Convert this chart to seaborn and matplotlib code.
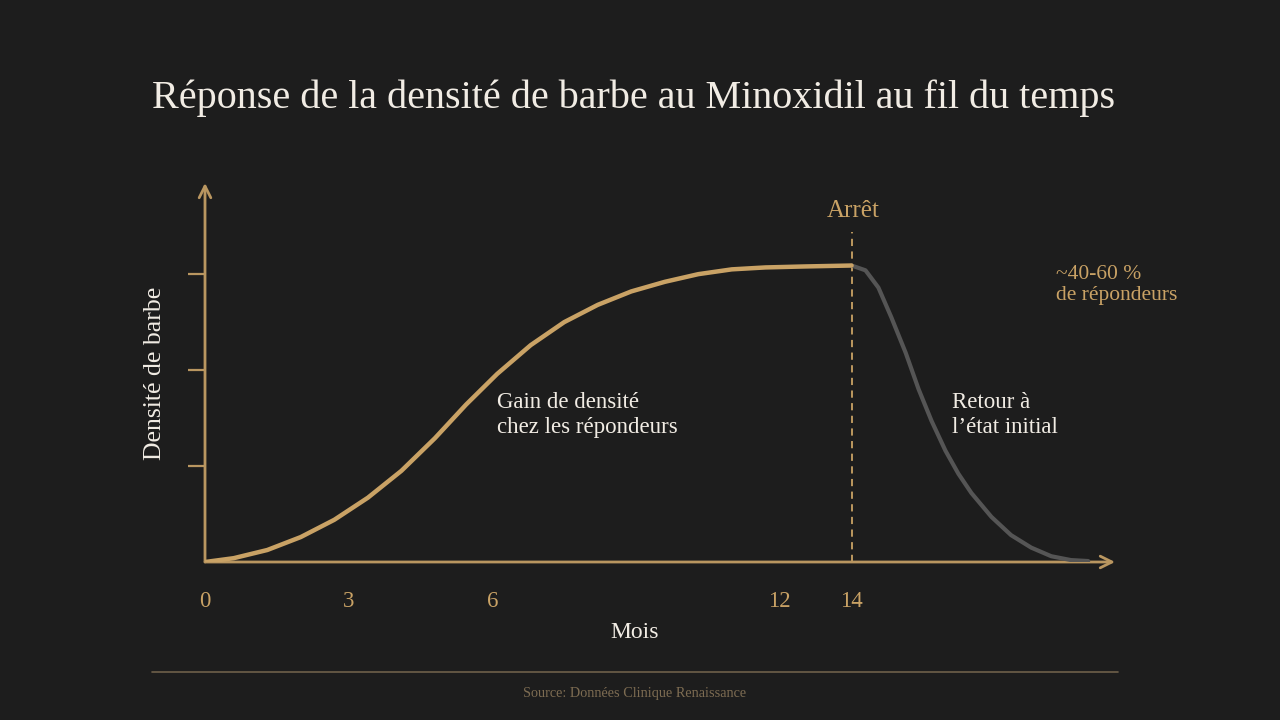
import pandas as pd
import matplotlib.pyplot as plt
import seaborn as sns

# --- data ---
months_on = [0, 0.6, 1.3, 2.0, 2.7, 3.4, 4.1, 4.8, 5.45, 6.1, 6.8, 7.5, 8.2,
             8.9, 9.6, 10.3, 11.0, 11.7, 12.5, 13.5]
density_on = [0, 0.04, 0.125, 0.26, 0.44, 0.67, 0.95, 1.29, 1.64, 1.96, 2.26,
              2.5, 2.68, 2.82, 2.92, 3.0, 3.05, 3.07, 3.08, 3.09]
months_off = [13.5, 13.79, 14.06, 14.33, 14.63, 14.9, 15.17, 15.46, 15.73, 16.0,
              16.42, 16.83, 17.25, 17.67, 18.08, 18.44]
density_off = [3.09, 3.04, 2.86, 2.55, 2.18, 1.8, 1.47, 1.16, 0.92, 0.72,
               0.47, 0.28, 0.15, 0.06, 0.02, 0.01]
stop_month = 13.5
tick_pos = [0, 3, 6, 12, 13.5]
tick_labels = ["0", "3", "6", "12", "14"]
tick_marks = [3, 6, 12]
y_marks = [1, 2, 3]

BG = "#1d1d1d"
GOLD = "#c9a265"
GOLD_AXIS = "#b99660"
GREY = "#555555"
WHITE = "#f1ece4"

sns.set_theme(style="ticks")
plt.rcParams["font.family"] = ["Liberation Serif", "DejaVu Serif"]

fig = plt.figure(figsize=(12.8, 7.2), dpi=100, facecolor=BG)
ax = fig.add_axes([205 / 1280, 1 - 562 / 720, 910 / 1280, (562 - 183) / 720])
ax.set_facecolor(BG)

on = pd.DataFrame({"mois": months_on, "densite": density_on})
off = pd.DataFrame({"mois": months_off, "densite": density_off})
sns.lineplot(data=on, x="mois", y="densite", color=GOLD, lw=3.2, ax=ax,
             solid_capstyle="round", solid_joinstyle="round", zorder=4)
sns.lineplot(data=off, x="mois", y="densite", color=GREY, lw=3.0, ax=ax,
             solid_capstyle="round", solid_joinstyle="round", zorder=3)

ax.set_xlim(0, 19)
ax.set_ylim(0, 3.95)
for s in ax.spines.values():
    s.set_visible(False)

# axes drawn as arrows
arrow = dict(arrowstyle="->,head_length=0.7,head_width=0.35", color=GOLD_AXIS,
             lw=2, shrinkA=0, shrinkB=0)
ax.annotate("", xy=(19, 0), xytext=(0, 0), arrowprops=arrow,
            annotation_clip=False, zorder=2)
ax.annotate("", xy=(0, 3.95), xytext=(0, 0), arrowprops=arrow,
            annotation_clip=False, zorder=2)

ax.set_xticks(tick_pos)
ax.set_xticklabels(tick_labels)
ax.set_xticks(tick_marks, minor=True)
ax.tick_params(axis="x", which="major", length=0, pad=21, labelsize=16.5,
               labelcolor=GOLD)
ax.tick_params(axis="x", which="minor", length=12, width=1.6, color=GOLD_AXIS,
               direction="out")
ax.set_yticks(y_marks)
ax.set_yticklabels([])
ax.tick_params(axis="y", length=12, width=1.6, color=GOLD_AXIS, direction="out")
ax.set_xlabel("")
ax.set_ylabel("")

ax.plot([stop_month, stop_month], [0, 3.44], ls=(0, (4, 3)), color=GOLD, lw=1.3,
        zorder=1)

# texts
fig.text(152 / 1280, 1 - 98 / 720,
         "Réponse de la densité de barbe au Minoxidil au fil du temps",
         color=WHITE, fontsize=28.9, ha="left", va="center")
fig.text(853 / 1280, 1 - 211 / 720, "Arrêt", color=GOLD, fontsize=18,
         ha="center", va="center")
fig.text(1056 / 1280, 1 - 285 / 720, "~40-60 %\nde répondeurs", color=GOLD,
         fontsize=15.5, ha="left", va="center", linespacing=1.2)
fig.text(497 / 1280, 1 - 415 / 720, "Gain de densité\nchez les répondeurs",
         color=WHITE, fontsize=16.5, ha="left", va="center", linespacing=1.2)
fig.text(952 / 1280, 1 - 415 / 720, "Retour à\nl’état initial",
         color=WHITE, fontsize=16.5, ha="left", va="center", linespacing=1.2)
fig.text(155 / 1280, 1 - 373 / 720, "Densité de barbe", color=WHITE, fontsize=18.5,
         rotation=90, ha="center", va="center")
fig.text(635 / 1280, 1 - 633 / 720, "Mois", color=WHITE, fontsize=17,
         ha="center", va="center")
fig.add_artist(plt.Line2D([152 / 1280, 1118 / 1280], [1 - 672 / 720] * 2,
                          color="#6e604a", lw=1.2))
fig.text(635 / 1280, 1 - 693 / 720, "Source: Données Clinique Renaissance",
         color="#7d6c52", fontsize=10.3, ha="center", va="center")

fig.savefig("out.png", dpi=100, facecolor=BG)
